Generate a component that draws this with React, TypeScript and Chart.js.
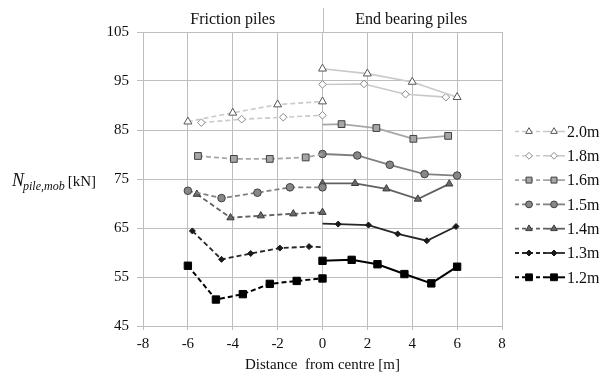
import React, { useEffect, useRef } from "react";
import { Chart, registerables } from "chart.js";
import { drawPoint } from "chart.js/helpers";

Chart.register(...registerables);

// ---- data ----
const seriesLabels = ["2.0m", "1.8m", "1.6m", "1.5m", "1.4m", "1.3m", "1.2m"];
const xTickValues = [-8, -6, -4, -2, 0, 2, 4, 6, 8];
const yTickValues = [45, 55, 65, 75, 85, 95, 105];
const sideTitles = ["Friction piles", "End bearing piles"];

// friction piles (left side, dashed)
const friction20x = [-6, -4, -2, 0];
const friction20y = [86.7, 88.5, 90.2, 90.8];
const friction18x = [-5.4, -3.6, -1.75, 0];
const friction18y = [86.5, 87.2, 87.6, 88.0];
const friction16x = [-5.55, -3.95, -2.35, -0.75, 0];
const friction16y = [79.7, 79.1, 79.1, 79.4, 80.1];
const friction15x = [-6, -4.5, -2.9, -1.45, 0];
const friction15y = [72.6, 71.1, 72.2, 73.3, 73.3];
const friction14x = [-5.6, -4.1, -2.75, -1.3, 0];
const friction14y = [71.9, 67.1, 67.5, 67.9, 68.2];
const friction13x = [-5.8, -4.5, -3.2, -1.9, -0.6, 0];
const friction13y = [64.4, 58.6, 59.8, 60.9, 61.2, 61.1];
const friction12x = [-6, -4.75, -3.55, -2.35, -1.15, 0];
const friction12y = [57.3, 50.4, 51.5, 53.6, 54.2, 54.7];

// end bearing piles (right side, solid)
const end20x = [0, 2, 4, 6];
const end20y = [97.5, 96.5, 94.8, 91.7];
const end18x = [0, 1.85, 3.7, 5.5];
const end18y = [94.3, 94.4, 92.3, 91.7];
const end16x = [0, 0.85, 2.4, 4.05, 5.6];
const end16y = [86.1, 86.2, 85.4, 83.2, 83.8];
const end15x = [0, 1.55, 3.0, 4.55, 6];
const end15y = [80.1, 79.8, 77.9, 76.0, 75.7];
const end14x = [0, 1.45, 2.85, 4.25, 5.65];
const end14y = [74.1, 74.1, 73.0, 70.9, 74.0];
const end13x = [0, 0.7, 2.05, 3.35, 4.65, 5.95];
const end13y = [65.9, 65.8, 65.6, 63.8, 62.4, 65.3];
const end12x = [0, 1.3, 2.45, 3.65, 4.85, 6];
const end12y = [58.3, 58.5, 57.6, 55.6, 53.7, 57.1];

const frictionX = [friction20x, friction18x, friction16x, friction15x, friction14x, friction13x, friction12x];
const frictionY = [friction20y, friction18y, friction16y, friction15y, friction14y, friction13y, friction12y];
const endX = [end20x, end18x, end16x, end15x, end14x, end13x, end12x];
const endY = [end20y, end18y, end16y, end15y, end14y, end13y, end12y];

// ---- styles ----
type Sty = { line: string; fill: string; stroke: string; shape: any; r: number; lw: number; hideZero: boolean; lr: number };
const styles: Sty[] = [
  { line: "#c9c9c9", fill: "#ffffff", stroke: "#555555", shape: "triangle", r: 4.6, lw: 1.6, hideZero: false, lr: 3.8 },
  { line: "#c9c9c9", fill: "#ffffff", stroke: "#8a8a8a", shape: "rectRot", r: 3.8, lw: 1.6, hideZero: false, lr: 3.4 },
  { line: "#a6a6a6", fill: "#a6a6a6", stroke: "#404040", shape: "rect", r: 4.8, lw: 1.8, hideZero: true, lr: 4.2 },
  { line: "#808080", fill: "#878787", stroke: "#404040", shape: "circle", r: 3.8, lw: 1.8, hideZero: false, lr: 3.4 },
  { line: "#606060", fill: "#6a6a6a", stroke: "#3a3a3a", shape: "triangle", r: 4.2, lw: 1.8, hideZero: false, lr: 3.8 },
  { line: "#262626", fill: "#1a1a1a", stroke: "#1a1a1a", shape: "rectRot", r: 3.0, lw: 1.8, hideZero: true, lr: 3.0 },
  { line: "#000000", fill: "#000000", stroke: "#000000", shape: "rect", r: 5.2, lw: 2.0, hideZero: false, lr: 4.8 },
];

const FONT = '"Liberation Serif", "Times New Roman", serif';
const GRID = "#bdbdbd";
const TEXT = "#0f0f0f";

function buildDatasets() {
  const ds: any[] = [];
  seriesLabels.forEach((label, i) => {
    const s = styles[i];
    const common = {
      showLine: true,
      borderColor: s.line,
      borderWidth: s.lw,
      pointStyle: s.shape,
      pointBackgroundColor: s.fill,
      pointBorderColor: s.stroke,
      pointBorderWidth: 1,
      pointRadius: (c: any) => (s.hideZero && c.raw && c.raw.x === 0 ? 0 : s.r),
      pointHoverRadius: s.r,
      tension: 0,
    };
    ds.push({
      ...common,
      label: label + " friction",
      borderDash: [5, 3],
      data: frictionX[i].map((x, k) => ({ x, y: frictionY[i][k] })),
    });
    ds.push({
      ...common,
      label: label + " end bearing",
      data: endX[i].map((x, k) => ({ x, y: endY[i][k] })),
    });
  });
  return ds;
}

const decorPlugin = {
  id: "decor",
  afterDraw(chart: any) {
    const ctx: CanvasRenderingContext2D = chart.ctx;
    const xs = chart.scales.x;
    const area = chart.chartArea;
    const x0 = xs.getPixelForValue(0);
    ctx.save();
    // divider line extending above the plot
    ctx.strokeStyle = GRID;
    ctx.lineWidth = 1;
    ctx.beginPath();
    ctx.moveTo(Math.round(x0) + 0.5, 8);
    ctx.lineTo(Math.round(x0) + 0.5, area.top);
    ctx.stroke();

    // side titles
    ctx.fillStyle = TEXT;
    ctx.font = `16px ${FONT}`;
    ctx.textBaseline = "middle";
    ctx.textAlign = "center";
    ctx.fillText(sideTitles[0], xs.getPixelForValue(-4), 20);
    ctx.fillText(sideTitles[1], xs.getPixelForValue(4) - 1, 20);

    // y axis title
    ctx.textAlign = "left";
    ctx.textBaseline = "alphabetic";
    ctx.font = `italic 18px ${FONT}`;
    ctx.fillText("N", 12, 186);
    const nW = ctx.measureText("N").width;
    ctx.font = `italic 12px ${FONT}`;
    ctx.fillText("pile,mob", 12 + nW - 1, 190);
    const sW = ctx.measureText("pile,mob").width;
    ctx.font = `15px ${FONT}`;
    ctx.fillText("[kN]", 12 + nW + sW + 2, 186);

    // legend
    seriesLabels.forEach((label, i) => {
      const s = styles[i];
      const y = 131.5 + i * 24.3;
      ctx.strokeStyle = s.line;
      ctx.lineWidth = s.lw;
      ctx.setLineDash([4, 3]);
      ctx.beginPath();
      ctx.moveTo(515, y);
      ctx.lineTo(546, y);
      ctx.stroke();
      ctx.setLineDash([]);
      ctx.beginPath();
      ctx.moveTo(546, y);
      ctx.lineTo(565, y);
      ctx.stroke();
      [529, 554].forEach((px) => {
        ctx.fillStyle = s.fill;
        ctx.strokeStyle = s.stroke;
        ctx.lineWidth = 1;
        drawPoint(ctx, { pointStyle: s.shape, rotation: 0, radius: s.lr, borderWidth: 1 } as any, px, y);
      });
      ctx.fillStyle = TEXT;
      ctx.font = `16px ${FONT}`;
      ctx.textAlign = "left";
      ctx.textBaseline = "middle";
      ctx.fillText(label, 567, y + 1);
    });
    ctx.restore();
  },
};

export default function App() {
  const ref = useRef<HTMLCanvasElement | null>(null);
  useEffect(() => {
    if (!ref.current) return;
    const chart = new Chart(ref.current, {
      type: "scatter",
      data: { datasets: buildDatasets() },
      options: {
        responsive: false,
        animation: false,
        devicePixelRatio: 1,
        layout: { padding: { left: 0, right: 103, top: 32, bottom: 0 } },
        plugins: { legend: { display: false }, tooltip: { enabled: false }, title: { display: false } },
        scales: {
          x: {
            type: "linear",
            min: -8,
            max: 8,
            afterBuildTicks: (s: any) => {
              s.ticks = xTickValues.map((v) => ({ value: v }));
            },
            ticks: { font: { family: FONT, size: 15 }, color: TEXT, padding: 5, maxRotation: 0 },
            grid: { color: GRID, lineWidth: 1, tickLength: 4, drawTicks: true },
            border: { color: GRID, width: 1 },
            title: { display: true, text: "Distance  from centre [m]", font: { family: FONT, size: 15 }, color: TEXT, padding: 0 },
            afterFit: (s: any) => {
              s.height = 48;
            },
          },
          y: {
            type: "linear",
            min: 45,
            max: 105,
            afterBuildTicks: (s: any) => {
              s.ticks = yTickValues.map((v) => ({ value: v }));
            },
            ticks: { font: { family: FONT, size: 15 }, color: TEXT, padding: 8 },
            grid: { color: GRID, lineWidth: 1, tickLength: 6, drawTicks: true },
            border: { color: GRID, width: 1 },
            afterFit: (s: any) => {
              s.width = 143;
            },
          },
        },
      } as any,
      plugins: [decorPlugin],
    });
    return () => chart.destroy();
  }, []);
  return (
    <div style={{ position: "absolute", left: 0, top: 0, width: 605, height: 374, background: "#fff" }}>
      <canvas ref={ref} width={605} height={374} style={{ width: 605, height: 374, display: "block" }} />
    </div>
  );
}
